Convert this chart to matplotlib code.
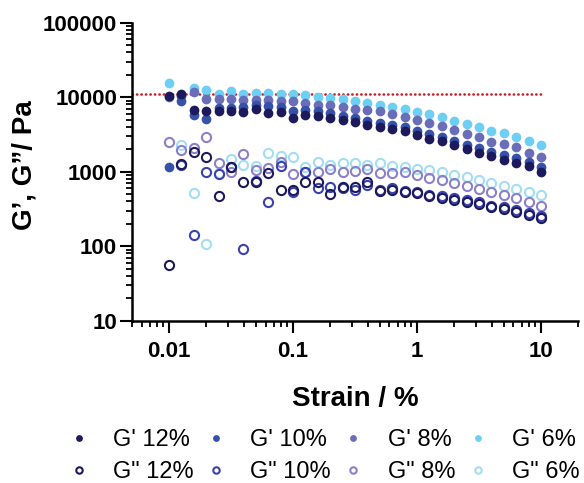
import numpy as np
import matplotlib
matplotlib.use("Agg")
import matplotlib.pyplot as plt
from matplotlib.ticker import FuncFormatter, NullFormatter, LogLocator

plt.rcParams['font.family'] = ['Liberation Sans', 'DejaVu Sans']

nan = np.nan

# strain sweep (%)
strain = [0.01, 0.01259, 0.01585, 0.01995, 0.02512, 0.03162, 0.03981, 0.05012, 0.0631, 0.07943,
          0.1, 0.1259, 0.1585, 0.1995, 0.2512, 0.3162, 0.3981, 0.5012, 0.631, 0.7943,
          1, 1.259, 1.585, 1.995, 2.512, 3.162, 3.981, 5.012, 6.31, 7.943, 10]

# storage modulus G' (Pa)
gp12 = [10400, 11000, 6730, 6590, 6530, 6530, 6330, 6940, 6140, 6330, 5260, 5770, 5590, 5260, 4940, 4690,
        4300, 4040, 3740, 3520, 3110, 2790, 2580, 2250, 2020, 1810, 1620, 1440, 1310, 1190, 991]
gp10 = [1170, 8890, 5770, 5100, 7160, 7160, 7390, 7860, 7620, 7390, 6530, 6730, 6530, 6140, 5680, 5260,
        4720, 4500, 4230, 3980, 3520, 3180, 2920, 2580, 2290, 2060, 1860, 1670, 1510, 1350, 1140]
gp8 = [10080, 10400, 11800, 9480, 9390, 9480, 9170, 9170, 9170, 8890, 8890, 8360, 7980, 7740, 7390, 6980,
       6730, 6470, 5950, 5430, 4940, 4500, 4070, 3630, 3210, 2920, 2520, 2320, 2150, 1810, 1570]
gp6 = [15300, 10700, 13100, 12400, 11000, 12200, 11000, 11500, 11500, 11000, 11000, 10700, 10080, 9690, 9480, 9030,
       8360, 7860, 7280, 6880, 6330, 5860, 5390, 4760, 4410, 3980, 3570, 3280, 2920, 2580, 2310]

# loss modulus G'' (Pa)
gpp12 = [55.9, 1257, 1822, 1561, 476, 1170, 720, 720, 952, 568, 568, 720, 734, 497, 614, 623,
         727, 559, 568, 526, 518, 472, 437, 411, 386, 374, 331, 316, 288, 266, 239]
gpp10 = [nan, 1230, 141, 1000, 931, 1160, 91, 750, 396, 1200, 529, 1000, 599, 614, 604, 568,
         663, 568, 604, 551, 539, 487, 465, 439, 411, 398, 346, 336, 306, 279, 254]
gpp8 = [2530, 1960, 2060, 2950, 1300, 1000, 1730, 1050, 1110, 1340, 923, 1000, 1000, 1090, 985, 1020,
        1090, 952, 952, 976, 895, 823, 781, 699, 637, 586, 531, 491, 439, 396, 346]
gpp6 = [nan, 2280, 513, 106, 952, 1470, 1230, 1190, 1770, 1640, 1590, 1170, 1340, 1220, 1290, 1310,
        1240, 1310, 1210, 1140, 1090, 1040, 991, 903, 836, 762, 705, 647, 589, 539, 487]

ref_level = 11000
ref_end = 10.5

fill_cols = ['#1c1a5c', '#3651a8', '#6a6db8', '#6dcff3']
open_cols = ['#1c1a5c', '#3a42b0', '#8b80c9', '#a3def2']
labels = ['12%', '10%', '8%', '6%']
gp = [gp12, gp10, gp8, gp6]
gpp = [gpp12, gpp10, gpp8, gpp6]

fig = plt.figure(figsize=(5.84, 4.83), dpi=100)
ax = fig.add_axes([131.7/584, 1-320.7/483, 446.6/584, 298/483])

ax.hlines(ref_level, 0.005, ref_end, colors='#cc1f2a', linewidth=1.9,
          linestyles=(0, (0.1, 1.6)), capstyle='round', zorder=1)

hp, hpp = {}, {}
for k in [3, 2, 1, 0]:
    hpp[k], = ax.plot(strain, gpp[k], 'o', ls='none', ms=6.6, mfc='none', mec=open_cols[k], mew=1.5,
                      label='G" ' + labels[k], zorder=2)
    hp[k], = ax.plot(strain, gp[k], 'o', ls='none', ms=7, mfc=fill_cols[k], mec=fill_cols[k], mew=0,
                     label="G' " + labels[k], zorder=3)

ax.set_xscale('log')
ax.set_yscale('log')
ax.set_xlim(0.005, 20)
ax.set_ylim(10, 100000)

for s in ['top', 'right']:
    ax.spines[s].set_visible(False)
for s in ['left', 'bottom']:
    ax.spines[s].set_linewidth(1.8)

fmt = FuncFormatter(lambda x, p: '{:g}'.format(x))
ax.xaxis.set_major_formatter(fmt)
ax.yaxis.set_major_formatter(fmt)
ax.xaxis.set_minor_formatter(NullFormatter())
ax.yaxis.set_minor_formatter(NullFormatter())
ax.xaxis.set_minor_locator(LogLocator(subs=np.arange(2, 10), numticks=20))
ax.yaxis.set_minor_locator(LogLocator(subs=np.arange(2, 10), numticks=20))
ax.tick_params(which='major', direction='out', length=8.5, width=1.5, labelsize=16)
ax.tick_params(which='minor', direction='out', length=4.3, width=1.3)
ax.tick_params(axis='y', which='major', pad=2)
ax.tick_params(axis='x', which='major', pad=6)
for t in ax.get_xticklabels() + ax.get_yticklabels():
    t.set_fontweight('bold')

fig.text(355/584, 1-399/483, 'Strain / %', ha='center', va='center', fontsize=20, fontweight='bold')
fig.text(24/584, 1-165/483, 'G’, G”/ Pa', ha='center', va='center', rotation=90,
         fontsize=20, fontweight='bold')

handles = []
for k in range(4):
    handles += [hp[k], hpp[k]]
fig.legend(handles=handles, labels=[h.get_label() for h in handles], ncol=4, loc='upper left',
           bbox_to_anchor=(67/584, 1-429/483), frameon=False, fontsize=17, handlelength=1.0,
           handletextpad=0.95, columnspacing=0.45, labelspacing=0.42, borderpad=0,
           borderaxespad=0, markerscale=0.7)

fig.savefig('out.png', dpi=100)
